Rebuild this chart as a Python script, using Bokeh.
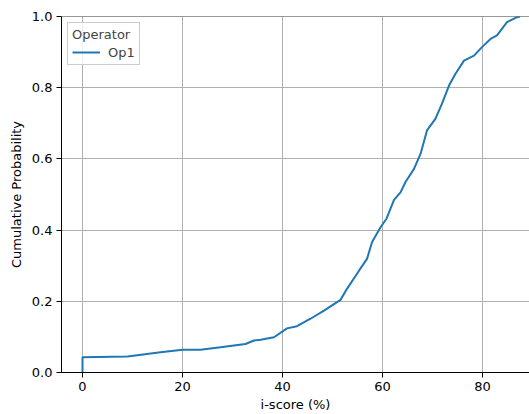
from bokeh.plotting import figure
from bokeh.models import Range1d, FixedTicker, PrintfTickFormatter, Span, Legend, LegendItem
from bokeh.embed import file_html
from bokeh.resources import INLINE

# Empirical CDF of i-score for operator Op1 (breakpoints of the curve)
score = [0.0, 0.0, 9.0, 15.6, 20.0, 23.6, 27.6, 32.6, 34.3, 35.6, 38.3, 40.9,
         42.9, 45.6, 48.3, 51.6, 52.9, 55.3, 56.9, 57.9, 59.6, 60.8, 62.3,
         63.6, 64.6, 66.3, 67.6, 68.9, 70.6, 71.9, 73.3, 74.6, 76.3, 78.3,
         79.9, 81.6, 82.9, 84.9, 86.9, 87.5]
cum_prob = [0.0, 0.043, 0.045, 0.057, 0.064, 0.064, 0.071, 0.080, 0.090, 0.092,
            0.099, 0.124, 0.130, 0.151, 0.174, 0.204, 0.235, 0.286, 0.319,
            0.366, 0.408, 0.432, 0.485, 0.506, 0.535, 0.572, 0.614, 0.680,
            0.713, 0.755, 0.806, 0.839, 0.876, 0.890, 0.914, 0.937, 0.947,
            0.984, 0.998, 1.0]
x_ticks = [0, 20, 40, 60, 80]
y_ticks = [0.0, 0.2, 0.4, 0.6, 0.8, 1.0]

FONT = "DejaVu Sans"

p = figure(width=529, height=414, output_backend="svg", toolbar_location=None,
           x_range=Range1d(-4.2, 89.4), y_range=Range1d(0, 1.0),
           min_border_left=61, min_border_right=0, min_border_top=16,
           min_border_bottom=42)
p.outline_line_color = None
p.background_fill_color = "white"
p.border_fill_color = "white"

line = p.line(score, cum_prob, line_color="#1f77b4", line_width=2)

# top spine
p.add_layout(Span(location=1.0, dimension="width", line_color="#333333", line_width=1.2))

for ax in (p.xaxis[0], p.yaxis[0]):
    ax.axis_line_color = "black"
    ax.axis_line_width = 1
    ax.major_tick_line_color = "black"
    ax.major_tick_out = 5
    ax.major_tick_in = 0
    ax.minor_tick_line_color = None
    ax.major_label_text_font = FONT
    ax.major_label_text_font_size = "13px"
    ax.major_label_text_color = "black"
    ax.axis_label_text_font = FONT
    ax.axis_label_text_font_size = "13px"
    ax.axis_label_text_font_style = "normal"
    ax.axis_label_text_color = "black"

p.xaxis.ticker = FixedTicker(ticks=x_ticks)
p.yaxis.ticker = FixedTicker(ticks=y_ticks)
p.yaxis.formatter = PrintfTickFormatter(format="%.1f")
p.xaxis.axis_label = "i-score (%)"
p.yaxis.axis_label = "Cumulative Probability"
p.xaxis.major_label_standoff = 4
p.yaxis.major_label_standoff = 4
p.xaxis.axis_label_standoff = 3
p.yaxis.axis_label_standoff = 5

p.grid.grid_line_color = "#b0b0b0"
p.grid.grid_line_width = 1

legend = Legend(items=[LegendItem(label="Op1", renderers=[line])],
                title="Operator", location="top_left")
legend.title_text_font = FONT
legend.title_text_font_size = "13px"
legend.title_text_font_style = "normal"
legend.title_standoff = 2
legend.label_text_font = FONT
legend.label_text_font_size = "13px"
legend.label_height = 16
legend.glyph_height = 16
legend.border_line_color = "#cccccc"
legend.border_line_alpha = 1
legend.background_fill_alpha = 0.8
legend.margin = 6
legend.padding = 4
legend.spacing = 0
legend.glyph_width = 28
legend.label_standoff = 8
p.add_layout(legend)

open("out.html", "w").write(file_html(p, INLINE))
